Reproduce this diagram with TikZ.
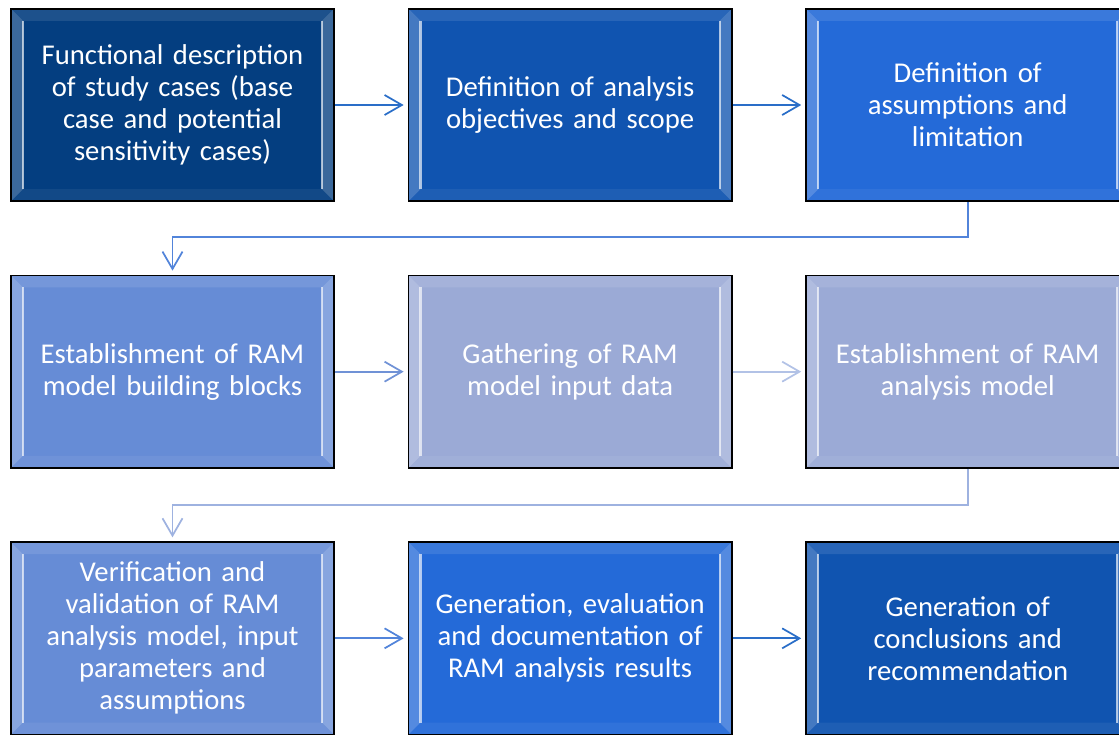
\documentclass[tikz,border=0pt]{standalone}
\usepackage{fontspec}
\setmainfont{Carlito}
\usepackage{tikz}
\usetikzlibrary{positioning}
\usetikzlibrary{arrows.meta}

\definecolor{navydark}{RGB}{4,62,128}
\definecolor{bluemid}{RGB}{16,84,176}
\definecolor{bluebright}{RGB}{36,106,216}
\definecolor{bluesoft}{RGB}{102,140,214}
\definecolor{bluepale}{RGB}{155,170,214}
\definecolor{arrowdark}{RGB}{42,110,200}
\definecolor{arrowmid}{RGB}{82,132,218}
\definecolor{arrowsoft}{RGB}{112,146,214}
\definecolor{arrowpale}{RGB}{178,194,230}
\definecolor{arrowlight}{RGB}{158,178,224}

\tikzset{
  bevel/.style={path picture={
      \path (path picture bounding box.north west) coordinate (pnw)
            (path picture bounding box.north east) coordinate (pne)
            (path picture bounding box.south west) coordinate (psw)
            (path picture bounding box.south east) coordinate (pse);
      \fill[white,opacity=.22] (pnw) -- ([shift={(9pt,-9pt)}]pnw) -- ([shift={(9pt,9pt)}]psw) -- (psw) -- cycle;
      \fill[white,opacity=.22] (pne) -- ([shift={(-9pt,-9pt)}]pne) -- ([shift={(-9pt,9pt)}]pse) -- (pse) -- cycle;
      \fill[white,opacity=.10] (pnw) -- (pne) -- ([shift={(-9pt,-9pt)}]pne) -- ([shift={(9pt,-9pt)}]pnw) -- cycle;
      \fill[white,opacity=.06] (psw) -- (pse) -- ([shift={(-9pt,9pt)}]pse) -- ([shift={(9pt,9pt)}]psw) -- cycle;
      \draw[white,opacity=.65,line width=1.6pt] ([shift={(9pt,-9pt)}]pnw) -- ([shift={(9pt,9pt)}]psw);
      \draw[white,opacity=.65,line width=1.6pt] ([shift={(-9pt,-9pt)}]pne) -- ([shift={(-9pt,9pt)}]pse);
  }},
  stage/.style={draw=black, line width=1.2pt, minimum width=242.5pt, minimum height=144.3pt,
    inner sep=0pt, text width=236pt, align=center, text=white,
    font=\fontsize{21.5}{24}\selectfont, bevel},
  flow/.style={line width=1.3pt, -{Straight Barb[length=13pt,width=15pt]}, shorten >=3pt}
}

\begin{document}
\begin{tikzpicture}[x=0.75pt, y=-0.75pt, node distance=54.5pt]
    \useasboundingbox (0,0) rectangle (1119,735);

    % first row
    \node[stage, fill=navydark] (funcdesc) at (172.5,105) {Functional description\\of study cases (base\\case and potential\\sensitivity cases)};
    \node[stage, fill=bluemid, right=of funcdesc] (objscope) {Definition of analysis\\objectives and scope};
    \node[stage, fill=bluebright, right=of objscope] (assump) {Definition of\\assumptions and\\limitation};

    % second row
    \node[stage, fill=bluesoft, below=of funcdesc] (blocks) {Establishment of RAM\\model building blocks};
    \node[stage, fill=bluepale, right=of blocks] (inputdata) {Gathering of RAM\\model input data};
    \node[stage, fill=bluepale, right=of inputdata] (anamodel) {Establishment of RAM\\analysis model};

    % third row
    \node[stage, fill=bluesoft, below=of blocks] (verif) {Verification and\\validation of RAM\\analysis model, input\\parameters and\\assumptions};
    \node[stage, fill=bluebright, right=of verif] (results) {Generation, evaluation\\and documentation of\\RAM analysis results};
    \node[stage, fill=bluemid, right=of results] (concl) {Generation of\\conclusions and\\recommendation};

    \draw[flow, arrowdark] (funcdesc) -- (objscope);
    \draw[flow, arrowdark] (objscope) -- (assump);
    \draw[flow, arrowmid] (assump.south) -- ++(0,-26pt) -| (blocks.north);
    \draw[flow, arrowsoft] (blocks) -- (inputdata);
    \draw[flow, arrowpale] (inputdata) -- (anamodel);
    \draw[flow, arrowlight] (anamodel.south) -- ++(0,-27pt) -| (verif.north);
    \draw[flow, arrowmid] (verif) -- (results);
    \draw[flow, arrowdark] (results) -- (concl);
\end{tikzpicture}
\end{document}
